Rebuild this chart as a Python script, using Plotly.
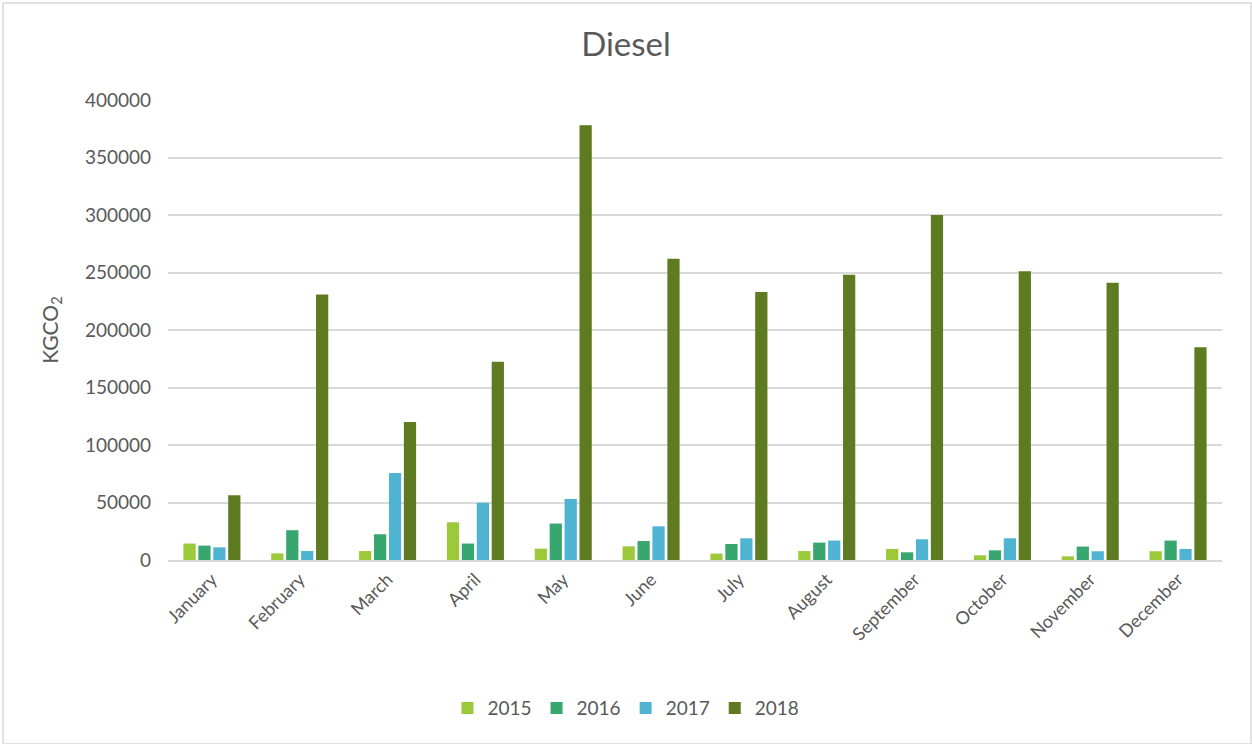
import plotly.graph_objects as go

months = ["January", "February", "March", "April", "May", "June", "July",
          "August", "September", "October", "November", "December"]
y2015 = [14300, 5800, 7800, 32800, 9900, 11900, 5600, 7800, 9600, 4100, 3200, 7600]
y2016 = [12500, 25900, 22400, 14300, 31700, 16500, 13900, 15100, 6700, 8400, 11700, 16900]
y2017 = [11000, 7800, 75700, 49800, 53100, 29300, 18900, 16900, 18000, 18900, 7600, 9600]
y2018 = [56300, 230800, 120000, 172400, 378000, 262000, 233000, 248000, 300000, 251000, 241000, 185000]

series = [("2015", y2015, "#9BC93A"), ("2016", y2016, "#37A76F"),
          ("2017", y2017, "#4FB4D2"), ("2018", y2018, "#5E7B22")]

fig = go.Figure()
for name, vals, col in series:
    fig.add_trace(go.Bar(x=months, y=vals, name=name, marker_color=col,
                         marker_line_width=0))

font_family = "Lato, 'Open Sans', sans-serif"
fig.update_layout(
    width=1252, height=744,
    paper_bgcolor="white", plot_bgcolor="white",
    margin=dict(l=168, r=30, t=100, b=184),
    title=dict(text="Diesel", x=0.5, xanchor="center", y=0.94, yanchor="middle",
               font=dict(family=font_family, size=33, color="#595959")),
    font=dict(family=font_family, color="#595959", size=18),
    barmode="group", bargap=0.32, bargroupgap=0.18,
    legend=dict(orientation="h", x=0.4345, xanchor="center", y=-0.322, yanchor="middle",
                font=dict(size=19, color="#595959"), itemwidth=30,
                traceorder="normal"),
    shapes=[dict(type="rect", xref="paper", yref="paper", x0=-0.1565, x1=1.0275,
                 y0=-0.4, y1=1.2109, line=dict(color="#d9d9d9", width=1.5))],
)
fig.update_yaxes(range=[0, 400000], dtick=50000, showgrid=True, gridcolor="#d9d9d9",
                 gridwidth=1.5, zeroline=False, showline=False, ticks="",
                 tickfont=dict(size=19, color="#595959"), ticklabelstandoff=16,
                 title=dict(text="KGCO<sub>2</sub>", font=dict(size=21, color="#595959"),
                            standoff=20),
                 tickformat="d")
fig.update_xaxes(showline=True, linecolor="#d9d9d9", linewidth=2, tickangle=-45,
                 tickfont=dict(size=18, color="#595959"), ticks="")

fig.write_html("out.html", config={"displayModeBar": False},
               post_script="document.body.style.margin='0';document.body.style.overflow='hidden';")
